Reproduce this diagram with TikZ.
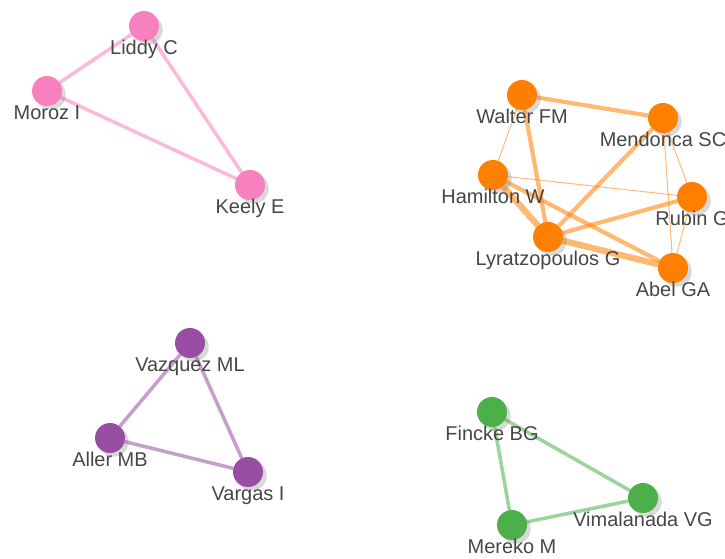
\documentclass[tikz,border=0pt]{standalone}
\usepackage{fontspec}
\setmainfont{Liberation Sans}
\usepackage{tikz-network}
\usetikzlibrary{shadows}

\definecolor{pinkset}{RGB}{247,129,191}
\definecolor{orangeset}{RGB}{255,127,0}
\definecolor{purpleset}{RGB}{152,78,163}
\definecolor{greenset}{RGB}{77,175,74}
\definecolor{labelgray}{RGB}{70,70,70}

\newcommand{\netfont}{\fontsize{14.2}{17}\selectfont}

\SetVertexStyle[TextFont=\netfont, TextColor=labelgray, LineWidth=0pt]
\SetEdgeStyle[Opacity=.55]

\begin{document}
\begin{tikzpicture}
\useasboundingbox (0,0) rectangle (18.125,13.975);

\Vertex[x=3.6,y=13.325,label=Liddy C,color=pinkset,size=.75,position=below,distance=-.14cm,style={draw=none,drop shadow={opacity=.3}}]{liddy}
\Vertex[x=1.175,y=11.7,label=Moroz I,color=pinkset,size=.75,position=below,distance=-.14cm,style={draw=none,drop shadow={opacity=.3}}]{moroz}
\Vertex[x=6.25,y=9.35,label=Keely E,color=pinkset,size=.75,position=below,distance=-.14cm,style={draw=none,drop shadow={opacity=.3}}]{keely}

\Edge[lw=2.5pt,color=pinkset](moroz)(liddy)
\Edge[lw=2.5pt,color=pinkset](liddy)(keely)
\Edge[lw=2.5pt,color=pinkset](moroz)(keely)

\Vertex[x=13.05,y=11.6,label=Walter FM,color=orangeset,size=.75,position=below,distance=-.14cm,style={draw=none,drop shadow={opacity=.3}}]{walter}
\Vertex[x=16.575,y=11.025,label=Mendonca SC,color=orangeset,size=.75,position=below,distance=-.14cm,style={draw=none,drop shadow={opacity=.3}}]{mendonca}
\Vertex[x=12.325,y=9.6,label=Hamilton W,color=orangeset,size=.75,position=below,distance=-.14cm,style={draw=none,drop shadow={opacity=.3}}]{hamilton}
\Vertex[x=17.3,y=9.05,label=Rubin G,color=orangeset,size=.75,position=below,distance=-.14cm,style={draw=none,drop shadow={opacity=.3}}]{rubin}
\Vertex[x=13.7,y=8.05,label=Lyratzopoulos G,color=orangeset,size=.75,position=below,distance=-.14cm,style={draw=none,drop shadow={opacity=.3}}]{lyratz}
\Vertex[x=16.825,y=7.275,label=Abel GA,color=orangeset,size=.75,position=below,distance=-.14cm,style={draw=none,drop shadow={opacity=.3}}]{abel}

\Edge[lw=3pt,color=orangeset](walter)(mendonca)
\Edge[lw=.7pt,color=orangeset](walter)(hamilton)
\Edge[lw=3pt,color=orangeset](walter)(lyratz)
\Edge[lw=3pt,color=orangeset](mendonca)(lyratz)
\Edge[lw=.7pt,color=orangeset](mendonca)(rubin)
\Edge[lw=.7pt,color=orangeset](mendonca)(abel)
\Edge[lw=.7pt,color=orangeset](hamilton)(rubin)
\Edge[lw=4.5pt,color=orangeset](hamilton)(lyratz)
\Edge[lw=3pt,color=orangeset](hamilton)(abel)
\Edge[lw=3pt,color=orangeset](lyratz)(rubin)
\Edge[lw=4.5pt,color=orangeset](lyratz)(abel)
\Edge[lw=.7pt,color=orangeset](rubin)(abel)

\Vertex[x=4.75,y=5.4,label=Vazquez ML,color=purpleset,size=.75,position=below,distance=-.14cm,style={draw=none,drop shadow={opacity=.3}}]{vazquez}
\Vertex[x=2.75,y=3.025,label=Aller MB,color=purpleset,size=.75,position=below,distance=-.14cm,style={draw=none,drop shadow={opacity=.3}}]{aller}
\Vertex[x=6.2,y=2.175,label=Vargas I,color=purpleset,size=.75,position=below,distance=-.14cm,style={draw=none,drop shadow={opacity=.3}}]{vargas}

\Edge[lw=2.5pt,color=purpleset](aller)(vazquez)
\Edge[lw=2.5pt,color=purpleset](vazquez)(vargas)
\Edge[lw=2.5pt,color=purpleset](aller)(vargas)

\Vertex[x=12.3,y=3.675,label=Fincke BG,color=greenset,size=.75,position=below,distance=-.14cm,style={draw=none,drop shadow={opacity=.3}}]{fincke}
\Vertex[x=16.075,y=1.525,label=Vimalanada VG,color=greenset,size=.75,position=below,distance=-.14cm,style={draw=none,drop shadow={opacity=.3}}]{vimala}
\Vertex[x=12.8,y=.85,label=Mereko M,color=greenset,size=.75,position=below,distance=-.14cm,style={draw=none,drop shadow={opacity=.3}}]{mereko}

\Edge[lw=2.5pt,color=greenset](fincke)(vimala)
\Edge[lw=2.5pt,color=greenset](fincke)(mereko)
\Edge[lw=2.5pt,color=greenset](mereko)(vimala)

\end{tikzpicture}
\end{document}
